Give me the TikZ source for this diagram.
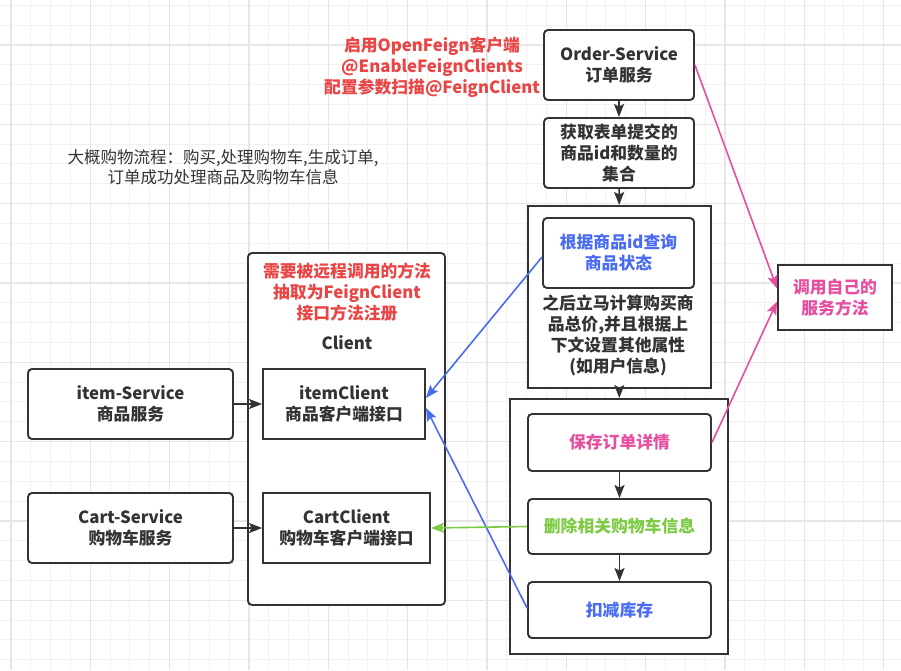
\documentclass[tikz,border=0pt]{standalone}
\usepackage{fontspec}
\newfontfamily\cjk{Noto Sans CJK SC}
\usetikzlibrary{arrows.meta}
\definecolor{ink}{HTML}{333333}
\definecolor{myred}{HTML}{EA4545}
\definecolor{mypink}{HTML}{E64FA0}
\definecolor{myblue}{HTML}{4A6CF2}
\definecolor{mygreen}{HTML}{7DCB45}
\definecolor{gridminor}{HTML}{F1F1F1}
\definecolor{gridmajor}{HTML}{E6E6E6}
\tikzset{
  box/.style={draw=ink, line width=1.9pt, align=center, text=ink, fill=white,
    font=\cjk\bfseries\fontsize{16.8}{21}\selectfont, inner sep=0pt},
  rbox/.style={box, rounded corners=4pt},
  txt/.style={align=center, text=ink, inner sep=0pt,
    font=\cjk\bfseries\fontsize{16.8}{21}\selectfont},
  con/.style={line width=1.6pt, -{Stealth[length=13pt,width=10pt,inset=2.5pt]}},
}
\begin{document}
\begin{tikzpicture}[x=1pt,y=-1pt]
\useasboundingbox (0,0) rectangle (901,670);
\fill[white] (0,0) rectangle (901,670);
% grid
\foreach \i in {0,...,45} {\draw[gridminor,line width=1pt] ({11+19.83*\i},0) -- ({11+19.83*\i},670);}
\foreach \i in {0,...,34} {\draw[gridminor,line width=1pt] (0,{5.3+19.83*\i}) -- (901,{5.3+19.83*\i});}
\foreach \i in {0,...,11} {\draw[gridmajor,line width=1.3pt] ({11+79.33*\i},0) -- ({11+79.33*\i},670);}
\foreach \i in {0,...,8} {\draw[gridmajor,line width=1.3pt] (0,{45+79.33*\i}) -- (901,{45+79.33*\i});}

% right column
\node[rbox, minimum width=150pt, minimum height=70pt] (order) at (619,65) {Order-Service\\订单服务};
\node[rbox, minimum width=150pt, minimum height=70pt] (collect) at (619,153) {获取表单提交的\\商品id和数量的\\集合};
\node[box, minimum width=183pt, minimum height=182pt] (outer1) at (619.5,297) {};
\node[rbox, minimum width=151pt, minimum height=70pt, text=myblue] (query) at (618.5,253) {根据商品id查询\\商品状态};
\node[txt] (calc) at (618,335) {之后立马计算购买商\\品总价,并且根据上\\下文设置其他属性\\(如用户信息)};
\node[box, minimum width=218pt, minimum height=255pt] (outer2) at (619,526.5) {};
\node[rbox, minimum width=183pt, minimum height=57pt, text=mypink] (save) at (619.5,442.5) {保存订单详情};
\node[rbox, minimum width=183pt, minimum height=55pt, text=mygreen] (delcart) at (619.5,526.5) {删除相关购物车信息};
\node[rbox, minimum width=183pt, minimum height=56pt, text=myblue] (deduct) at (619.5,610) {扣减库存};
\node[box, minimum width=114pt, minimum height=65pt, text=mypink] (self) at (835,297.5) {调用自己的\\服务方法};

% texts
\node[txt, text=myred] (enable) at (432,67) {启用OpenFeign客户端\\@EnableFeignClients\\配置参数扫描@FeignClient};
\node[txt, font=\cjk\fontsize{16.5}{20}\selectfont] (note) at (223,167) {大概购物流程：购买,处理购物车,生成订单,\\订单成功处理商品及购物车信息};

% client column
\node[rbox, minimum width=197pt, minimum height=352pt] (client) at (346.5,429) {};
\node[txt, text=myred] (clientnote) at (347,292) {需要被远程调用的方法\\抽取为FeignClient\\接口方法注册};
\node[txt] (clientlbl) at (347,343) {Client};
\node[box, minimum width=162pt, minimum height=70pt] (itemc) at (344,404) {itemClient\\商品客户端接口};
\node[box, minimum width=167pt, minimum height=70pt] (cartc) at (346.5,528) {CartClient\\购物车客户端接口};
\node[rbox, minimum width=205pt, minimum height=70pt] (items) at (130.5,404) {item-Service\\商品服务};
\node[rbox, minimum width=205pt, minimum height=70pt] (carts) at (130.5,528) {Cart-Service\\购物车服务};

% connectors
\draw[con, ink] (order) -- (collect);
\draw[con, ink] (collect) -- (outer1);
\draw[con, ink] (outer1) -- (outer2);
\draw[con, ink] (save) -- (delcart);
\draw[con, ink] (delcart) -- (deduct);
\draw[con, ink] (items) -- (itemc);
\draw[con, ink] (carts) -- (cartc);
\draw[con, myblue] ([yshift=-4pt]query.west) -- ([yshift=6pt]itemc.east);
\draw[con, myblue] ([yshift=2pt]deduct.west) -- ([yshift=-4pt]itemc.east);
\draw[con, mygreen] (delcart.west) -- (cartc.east);
\draw[con, mypink] (order.east) -- ([yshift=9pt]self.west);
\draw[con, mypink] (save.east) -- ([yshift=-4pt]self.west);
\end{tikzpicture}
\end{document}
